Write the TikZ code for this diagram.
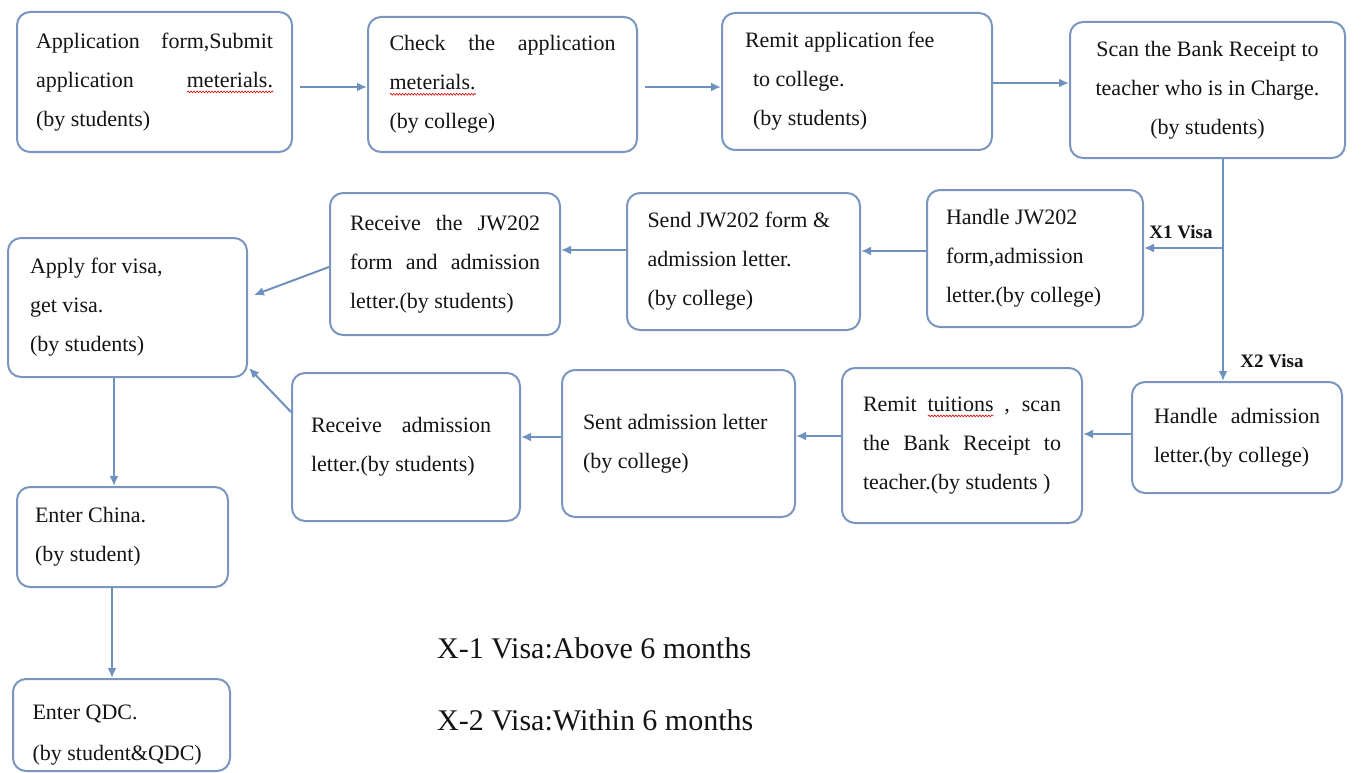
\documentclass[tikz,border=0pt]{standalone}
\usepackage{fontspec}
\setmainfont{Liberation Serif}
\usetikzlibrary{arrows.meta,calc,decorations.pathmorphing}
\definecolor{boxc}{RGB}{122,150,190}
\definecolor{arrc}{RGB}{110,145,190}
\definecolor{txtc}{RGB}{20,20,20}
\newlength\sqw
\newcommand\sq[1]{\leavevmode\settowidth\sqw{#1}\rlap{\raisebox{-4.5pt}[0pt][0pt]{\tikz[baseline=0pt]\draw[red!85!black,line width=0.6pt,sharp corners,decorate,decoration={snake,amplitude=0.9pt,segment length=3pt}] (0pt,0pt)--(\sqw,0pt);}}#1}
\newcommand\jst[2]{\leavevmode\makebox[#1][s]{\spaceskip=0.25em plus 5em\relax #2}}
\tikzset{
  fbox/.style={draw=boxc, line width=2pt, rounded corners=13pt, fill=white,
    inner sep=0pt, align=flush left, text=txtc, font=\fontsize{22}{39}\selectfont},
  arr/.style={draw=arrc, line width=2pt, -{Latex[length=10pt,width=9pt]}},
  lab/.style={inner sep=0pt, text=txtc, font=\fontsize{19}{22}\selectfont\bfseries},
  leg/.style={inner sep=0pt, text=txtc, font=\fontsize{30}{34}\selectfont, anchor=west}
}
\begin{document}
\begin{tikzpicture}[x=1pt,y=-1pt]
\useasboundingbox (0,0) rectangle (1365,773);
% row 1
\node[fbox, minimum width=275pt, minimum height=140pt, text width=237pt] (b1) at (154.5,82)
  {\jst{237pt}{Application form,Submit}\\ \jst{237pt}{application \sq{meterials.}}\\ (by students)};
\node[fbox, minimum width=269pt, minimum height=135pt, text width=226pt] (b2) at (502.5,84.5)
  {\jst{226pt}{Check the application}\\ \sq{meterials.}\\ (by college)};
\node[fbox, minimum width=270pt, minimum height=137pt, text width=224pt] (b3) at (857,81.5)
  {Remit application fee\\ \hspace*{8pt}to college.\\ \hspace*{8pt}(by students)};
\node[fbox, minimum width=275pt, minimum height=136pt, text width=250pt, align=flush center] (b4) at (1207.5,90)
  {Scan the Bank Receipt to\\ teacher who is in Charge.\\ (by students)};
% row 2
\node[fbox, minimum width=216pt, minimum height=137pt, text width=178pt] (b5) at (1035,258.5)
  {Handle JW202\\ form,admission\\ letter.(by college)};
\node[fbox, minimum width=233pt, minimum height=137pt, text width=192pt] (b6) at (743.5,261.5)
  {Send JW202 form \&\\ admission letter.\\ (by college)};
\node[fbox, minimum width=230pt, minimum height=142pt, text width=190pt] (b7) at (445,264)
  {\jst{190pt}{Receive the JW202}\\ \jst{190pt}{form and admission}\\ letter.(by students)};
\node[fbox, minimum width=239pt, minimum height=139pt, text width=195pt] (b8) at (127.5,307.5)
  {Apply for visa,\\ get visa.\\ (by students)};
% row 3
\node[fbox, minimum width=210pt, minimum height=111pt, text width=166pt] (b9) at (1237,437.5)
  {\jst{166pt}{Handle admission}\\ letter.(by college)};
\node[fbox, minimum width=240pt, minimum height=155pt, text width=198pt] (b10) at (962,445.5)
  {\jst{198pt}{Remit \sq{tuitions} , scan}\\ \jst{198pt}{the Bank Receipt to}\\ teacher.(by students )};
\node[fbox, minimum width=233pt, minimum height=147pt, text width=191pt] (b11) at (678.5,443.5)
  {Sent admission letter\\ (by college)\\[6pt]};
\node[fbox, minimum width=228pt, minimum height=148pt, text width=190pt] (b12) at (406,447)
  {\jst{180pt}{Receive admission}\\ letter.(by students)\\[4pt]};
% column
\node[fbox, minimum width=211pt, minimum height=100pt, text width=175pt] (b13) at (122.5,537)
  {Enter China.\\ (by student)};
\node[fbox, minimum width=217pt, minimum height=92pt, text width=178pt] (b14) at (121.5,725)
  {\\[-4pt]Enter QDC.\\[2pt] (by student\&QDC)};
% labels
\node[lab] (x1) at (1181,232) {X1 Visa};
\node[lab] (x2) at (1272,361) {X2 Visa};
\node[leg] (l1) at (437,648) {X-1 Visa:Above 6 months};
\node[leg] (l2) at (437,720) {X-2 Visa:Within 6 months};
% connectors
\draw[arr, shorten <=7pt] (b1.east |- 0,87) -- (b2.west |- 0,87);
\draw[arr, shorten <=7pt] (b2.east |- 0,87) -- (b3.west |- 0,87);
\draw[arr] (b3.east |- 0,83) -- (b4.west |- 0,83);
\coordinate (j1) at (1223,248);
\draw[arr] (b4.south -| j1) -- (b9.north -| j1);
\draw[arr] (j1) -- (b5.east |- j1);
\draw[arr] (b5.west |- 0,251) -- (b6.east |- 0,251);
\draw[arr] (b6.west |- 0,250) -- (b7.east |- 0,250);
\draw[arr] (b7.west |- 0,267) -- ($(b8.east)+(6,-12.5)$);
\draw[arr] (b9.west |- 0,434) -- (b10.east |- 0,434);
\draw[arr] (b10.west |- 0,436) -- (b11.east |- 0,436);
\draw[arr] (b11.west |- 0,437) -- (b12.east |- 0,437);
\draw[arr] (b12.west |- 0,412) -- ($(b8.south east)+(1,-10)$);
\draw[arr] (b8.south -| 114,0) -- (b13.north -| 114,0);
\draw[arr] (b13.south -| 112,0) -- (b14.north -| 112,0);
\end{tikzpicture}
\end{document}
